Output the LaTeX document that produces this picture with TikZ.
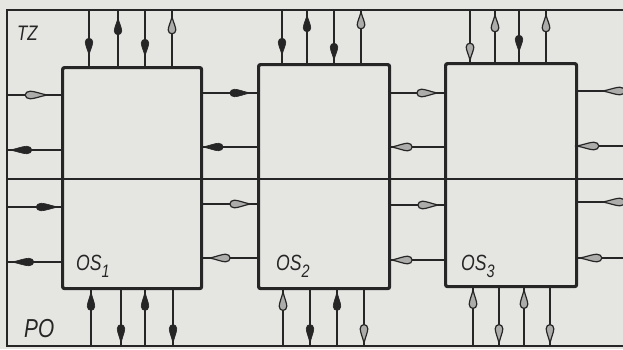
\documentclass[tikz,border=0pt]{standalone}
\usepackage{fontspec}
\newfontfamily\din[FakeStretch=0.8]{Liberation Sans}
\definecolor{ink}{HTML}{262626}
\definecolor{paper}{HTML}{E5E5E2}
\tikzset{
  frame/.style={draw=ink, line width=1.8pt},
  box/.style={draw=ink, line width=3.2pt, rounded corners=2pt, inner sep=0pt, anchor=north west},
  conn/.style={draw=ink, line width=1.8pt},
  lbl/.style={text=ink, inner sep=0pt, anchor=base west},
  tfull/.style={fill=ink, draw=ink, line width=0.6pt},
  topen/.style={fill=paper!70!ink, draw=ink, line width=1.2pt}
}
\newcommand\tear[5]{%
  \path[#4, shift={(#1,#2)}, rotate=#3, xscale=#5]
    (0,0) .. controls (-5,1.3) and (-10,3.8) .. (-13,3.8)
    arc[start angle=90, end angle=270, radius=3.8]
    .. controls (-10,-3.8) and (-5,-1.3) .. cycle;}
\begin{document}
\begin{tikzpicture}[x=1pt, y=-1pt]
  \useasboundingbox (0,0) rectangle (623,349);
  \fill[paper] (0,0) rectangle (623,349);
  % frame and buses
  \coordinate (TL) at (7,10);
  \coordinate (TR) at (623,10);
  \coordinate (BL) at (7,346);
  \coordinate (BR) at (623,346);
  \coordinate (ML) at (7,179);
  \coordinate (MR) at (623,179);
  \draw[frame] (TR) -- (TL) -- (BL) -- (BR);
  \draw[frame] (ML) -- (MR);
  % boxes
  \node[box, minimum width=139pt, minimum height=221pt] (b1) at (61,66) {};
  \node[box, minimum width=131pt, minimum height=224pt] (b2) at (257,63) {};
  \node[box, minimum width=131pt, minimum height=223pt] (b3) at (444,62) {};
  % top connectors  box / x / tip y / angle / style
  \foreach \b/\x/\t/\a/\s in {
      b1/89/55/-90/tfull, b1/118/18/90/tfull, b1/145/56/-90/tfull, b1/172/17/90/topen,
      b2/282/55/-90/tfull, b2/307/15/90/tfull, b2/334/60/-90/tfull, b2/361/12/90/topen,
      b3/470/60/-90/topen, b3/495/15/90/topen, b3/519/52/-90/tfull, b3/546/15/90/topen}{
    \draw[conn] (TL -| \x,0) -- (\b.north -| \x,0);
    \tear{\x}{\t}{\a}{\s}{1}
  }
  % bottom connectors
  \foreach \b/\x/\t/\a/\s in {
      b1/91/292/90/tfull, b1/121/343/-90/tfull, b1/145/292/90/tfull, b1/173/343/-90/tfull,
      b2/283/292/90/topen, b2/310/343/-90/tfull, b2/337/292/90/tfull, b2/364/343/-90/topen,
      b3/473/290/90/topen, b3/499/343/-90/topen, b3/524/290/90/topen, b3/550/343/-90/topen}{
    \draw[conn] (\b.south -| \x,0) -- (BL -| \x,0);
    \tear{\x}{\t}{\a}{\s}{1.1}
  }
  % left of box 1
  \foreach \y/\t/\a/\s in {95/47/0/topen, 150/10/180/tfull, 207/58/0/tfull, 262/12/180/tfull}{
    \draw[conn] (ML |- 0,\y) -- (b1.west |- 0,\y);
    \tear{\t}{\y}{\a}{\s}{1.3}
  }
  % between box 1 and box 2
  \foreach \y/\t/\a/\s in {93/250/0/tfull, 147/203/180/tfull, 204/250/0/topen, 258/210/180/topen}{
    \draw[conn] (b1.east |- 0,\y) -- (b2.west |- 0,\y);
    \tear{\t}{\y}{\a}{\s}{1.2}
  }
  % between box 2 and box 3
  \foreach \y/\t/\a/\s in {93/437/0/topen, 147/392/180/topen, 205/438/0/topen, 260/392/180/topen}{
    \draw[conn] (b2.east |- 0,\y) -- (b3.west |- 0,\y);
    \tear{\t}{\y}{\a}{\s}{1.2}
  }
  % right of box 3
  \foreach \y/\t/\a/\s in {91/603/180/topen, 146/577/180/topen, 202/603/180/topen, 258/580/180/topen}{
    \draw[conn] (b3.east |- 0,\y) -- (MR |- 0,\y);
    \tear{\t}{\y}{\a}{\s}{1.3}
  }
  % labels
  \node[lbl, font={\din\itshape\fontsize{21}{24}\selectfont}] (tz) at (17,40) {TZ};
  \node[lbl, font={\din\itshape\fontsize{26}{28}\selectfont}] (po) at (24,337) {PO};
  \node[lbl, font={\din\itshape\fontsize{22}{24}\selectfont}] (os1) at (76,270)
    {OS\raisebox{-7pt}{\fontsize{18}{18}\selectfont 1}};
  \node[lbl, font={\din\itshape\fontsize{22}{24}\selectfont}] (os2) at (276,270)
    {OS\raisebox{-7pt}{\fontsize{18}{18}\selectfont 2}};
  \node[lbl, font={\din\itshape\fontsize{22}{24}\selectfont}] (os3) at (461,270)
    {OS\raisebox{-7pt}{\fontsize{18}{18}\selectfont 3}};
\end{tikzpicture}
\end{document}
